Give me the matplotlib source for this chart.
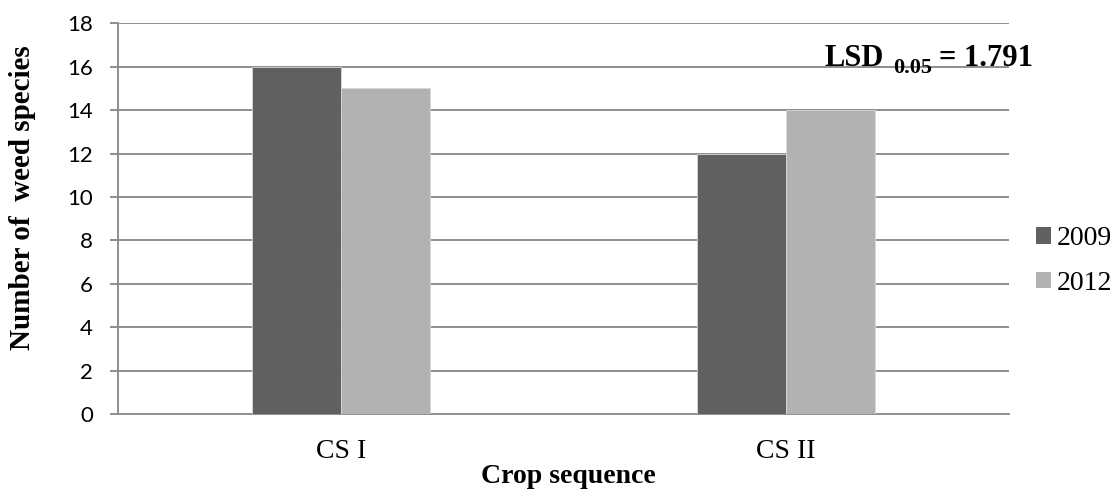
import matplotlib
matplotlib.use("Agg")
import matplotlib.pyplot as plt
from matplotlib.patches import Patch
import numpy as np

categories = ["CS I", "CS II"]
years = ["2009", "2012"]
values_2009 = [16, 12]
values_2012 = [15, 14]
y_ticks = [0, 2, 4, 6, 8, 10, 12, 14, 16, 18]

W, H = 1118, 490
fig = plt.figure(figsize=(W / 100, H / 100), dpi=100)
L, R, T, B = 118, 1009, 23.3, 414
ax = fig.add_axes([L / W, (H - B) / H, (R - L) / W, (B - T) / H])

dark = "#606060"
light = "#b2b2b2"
grid_c = "#8e8e8e"

x = np.arange(len(categories))
bw = 0.2
ax.bar(x - bw / 2, values_2009, bw, color=dark, edgecolor="#d8d8d8", linewidth=0.6, zorder=3)
ax.bar(x + bw / 2, values_2012, bw, color=light, edgecolor="#d8d8d8", linewidth=0.6, zorder=3)

ax.set_xlim(-0.5, 1.5)
ax.set_ylim(0, 18)
ax.set_yticks(y_ticks)
ax.yaxis.grid(True, color=grid_c, linewidth=1.4, zorder=0)
ax.set_axisbelow(True)
for s in ["top", "right"]:
    ax.spines[s].set_visible(False)
ax.spines["left"].set_color(grid_c)
ax.spines["left"].set_linewidth(1.4)
ax.spines["bottom"].set_color(grid_c)
ax.spines["bottom"].set_linewidth(1.4)

ax.tick_params(axis="y", length=6, width=1.4, color=grid_c, pad=12,
               labelsize=16)
for lab in ax.get_yticklabels():
    lab.set_fontfamily("Lato")
ax.set_xticks(x)
ax.set_xticklabels(categories, fontfamily="Liberation Serif", fontsize=20)
ax.tick_params(axis="x", length=0, pad=18)

ax.set_xlabel("Crop sequence", fontfamily="Liberation Serif", fontsize=20,
              fontweight="bold", va="baseline")
ax.xaxis.set_label_coords((568 - L) / (R - L), (B - 483) / (B - T))
ax.set_ylabel("Number of  weed species", fontfamily="Liberation Serif",
              fontsize=21, fontweight="bold", va="center")
ax.yaxis.set_label_coords((23 - L) / (R - L), (B - 198) / (B - T))

handles = [Patch(facecolor=dark), Patch(facecolor=light)]
fig.legend(handles, years, loc="center left",
           bbox_to_anchor=(1036 / W, 1 - 261 / H), frameon=False,
           prop={"family": "Liberation Serif", "size": 20},
           handlelength=0.54, handleheight=0.54, handletextpad=0.2,
           labelspacing=0.7, borderpad=0, borderaxespad=0)

# LSD annotation
fig.text(824 / W, 1 - 66 / H, "LSD", fontfamily="Liberation Serif",
         fontsize=22, fontweight="bold", ha="left", va="baseline")
fig.text(893 / W, 1 - 73 / H, "0.05", fontfamily="Liberation Serif",
         fontsize=16, fontweight="bold", ha="left", va="baseline")
fig.text(939 / W, 1 - 66 / H, "= 1.791", fontfamily="Liberation Serif",
         fontsize=22, fontweight="bold", ha="left", va="baseline")

fig.savefig("out.png", dpi=100)
